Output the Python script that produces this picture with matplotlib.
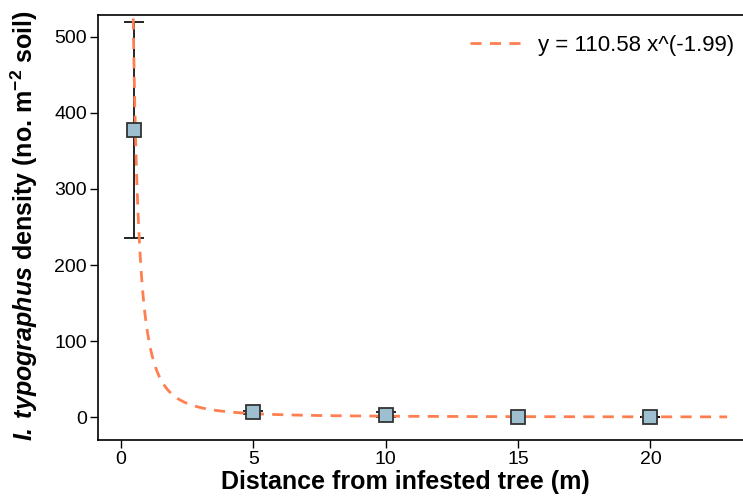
import matplotlib.pyplot as plt
import numpy as np

plt.rcParams['font.family'] = ['Liberation Sans', 'DejaVu Sans']
plt.rcParams['mathtext.fontset'] = 'custom'
plt.rcParams['mathtext.rm'] = 'Liberation Sans'
plt.rcParams['mathtext.bf'] = 'Liberation Sans:bold'
plt.rcParams['mathtext.bfit'] = 'Liberation Sans:italic:bold'

# data
distance = [0.5, 5, 10, 15, 20]
density = [378, 6, 3, 0, 0]
density_err = [142, 2, 3, 0.5, 0.5]
fit_a = 110.58
fit_b = -1.99
fit_label = 'y = 110.58 x^(-1.99)'

fig = plt.figure(figsize=(7.43, 4.97), dpi=100)
ax = fig.add_axes([0.132, 0.115, 0.868, 0.855])

xfit = np.linspace(0.4, 22.9, 600)
ax.plot(xfit, fit_a * xfit ** fit_b, ls=(0, (4, 3)), color='#ff7f50', lw=2,
        label=fit_label, zorder=3)
ax.errorbar(distance, density, yerr=density_err, fmt='none', ecolor='black',
            elinewidth=1.2, capsize=7.5, capthick=1.2, zorder=2)
ax.plot(distance, density, 's', ms=9.5, mfc='#9dbfcf', mec='#333333', mew=1.3,
        zorder=4)

ax.set_xlim(-0.87, 23.5)
ax.set_ylim(-30, 529)
ax.set_xticks([0, 5, 10, 15, 20])
ax.set_yticks([0, 100, 200, 300, 400, 500])
ax.tick_params(direction='out', length=6, width=1, labelsize=14, pad=2)
ax.spines['right'].set_visible(False)
for s in ['left', 'bottom', 'top']:
    ax.spines[s].set_linewidth(1.2)

ax.set_xlabel('Distance from infested tree (m)', fontsize=18, fontweight='bold')
ax.set_ylabel(r'$\mathbfit{I.}\,\mathbfit{typographus}$ density (no. m$^{\mathbf{-2}}$ soil)',
              fontsize=18, fontweight='bold')
ax.xaxis.set_label_coords(0.476, -0.072)
ax.yaxis.set_label_coords(-0.090, 0.504)

ax.legend(loc='upper right', bbox_to_anchor=(1.017, 1.0), frameon=False,
          fontsize=16, handlelength=2.4, handletextpad=0.65)

fig.savefig('out.png', dpi=100)
